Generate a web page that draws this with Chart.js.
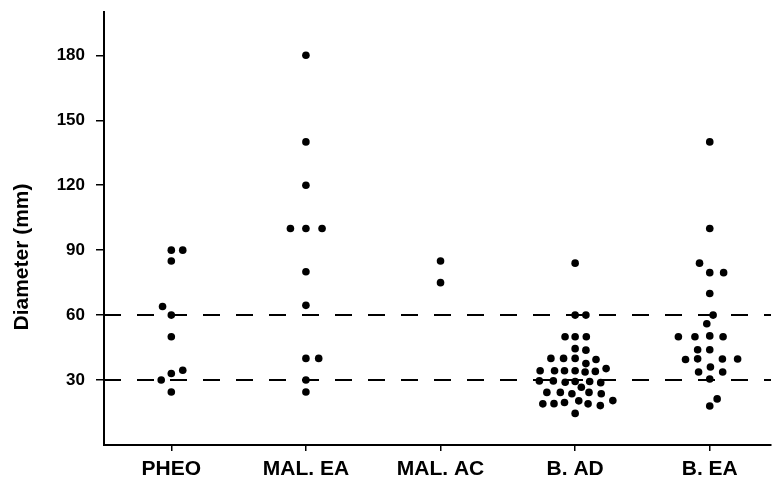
<!DOCTYPE html>
<html>
<head>
<meta charset="utf-8">
<script src="https://cdn.jsdelivr.net/npm/chart.js@4/dist/chart.umd.min.js"></script>
<style>
    body { margin: 0; background: #fff; }
</style>
</head>
<body>
<canvas id="diameter-chart" width="775" height="479"></canvas>
<script>
// Catégories et graduations
const categories = ['PHEO', 'MAL. EA', 'MAL. AC', 'B. AD', 'B. EA'];
const yTicks = [30, 60, 90, 120, 150, 180];
const thresholds = [30, 60];
const yTitle = 'Diameter (mm)';

// Diamètres (mm) et décalage horizontal de chaque point dans son groupe
const pheoValues = [90, 90, 85, 64, 60, 50, 33, 34.5, 30, 24.5];
const pheoOffsets = [0, 0.085, 0, -0.065, 0, 0, 0, 0.085, -0.075, 0];

const malEaValues = [180, 140, 120, 100, 100, 100, 80, 64.5, 40, 40, 30, 24.5];
const malEaOffsets = [0, 0, 0, -0.115, 0, 0.12, 0, 0, 0, 0.095, 0, 0];

const malAcValues = [85, 75];
const malAcOffsets = [0, 0];

const bAdValues = [84, 60, 60, 50, 50, 50, 44.5, 43.8, 40, 40, 40, 39.5, 37.6,
    34.3, 34.3, 34.3, 34.3, 33.7, 34, 35.3,
    29.6, 29.6, 29, 29.3, 29.3, 28.8, 26.7,
    24.3, 24.3, 23.7, 24.3, 23.7, 20.5,
    19, 19.1, 19.6, 20.4, 19, 18.2, 14.6];
const bAdOffsets = [0, 0, 0.08, -0.075, 0, 0.083, 0, 0.08, -0.18, -0.086, 0, 0.155, 0.08,
    -0.26, -0.153, -0.079, 0, 0.074, 0.15, 0.23,
    -0.266, -0.162, -0.074, 0, 0.108, 0.19, 0.046,
    -0.21, -0.11, -0.024, 0.103, 0.194, 0.28,
    -0.24, -0.157, -0.079, 0.027, 0.096, 0.187, 0];

const bEaValues = [140, 100, 84, 79.6, 79.6, 70, 60, 56, 50, 50, 50.4, 50, 44, 44,
    39.5, 39.8, 39.7, 39.7, 36, 33.7, 33.7, 30.5, 21.3, 18];
const bEaOffsets = [0, 0, -0.076, 0, 0.103, 0, 0.025, -0.022, -0.233, -0.11, 0, 0.099, -0.09, 0,
    -0.18, -0.09, 0.094, 0.207, 0.005, -0.083, 0.096, 0, 0.055, 0];

const groups = [
    [pheoValues, pheoOffsets],
    [malEaValues, malEaOffsets],
    [malAcValues, malAcOffsets],
    [bAdValues, bAdOffsets],
    [bEaValues, bEaOffsets]
];

const xMin = -0.5;
const xMax = 4.455;
const labelFont = 'Liberation Sans, Arial, Helvetica, sans-serif';

// Nuages de points, un jeu par groupe
const datasets = groups.map(([values, offsets], i) => ({
    type: 'scatter',
    label: categories[i],
    data: values.map((v, k) => ({ x: i + offsets[k], y: v })),
    backgroundColor: '#000',
    borderWidth: 0,
    pointRadius: 3.8
}));

// Lignes pointillées de seuil
thresholds.forEach(t => {
    datasets.push({
        type: 'line',
        data: [{ x: xMin, y: t }, { x: xMax, y: t }],
        borderColor: '#000',
        borderWidth: 2,
        borderDash: [17, 16],
        pointRadius: 0,
        fill: false
    });
});

// Titre vertical, un peu sous le milieu de l'axe comme sur l'original
const yTitlePlugin = {
    id: 'yTitle',
    afterDraw(chart) {
        const c = chart.ctx;
        c.save();
        c.translate(22, 257);
        c.rotate(-Math.PI / 2);
        c.font = 'bold 21px ' + labelFont;
        c.fillStyle = '#000';
        c.textAlign = 'center';
        c.textBaseline = 'middle';
        c.fillText(yTitle, 0, 0);
        c.restore();
    }
};

const ctx = document.getElementById('diameter-chart').getContext('2d');
const diameterChart = new Chart(ctx, {
    data: { datasets: datasets },
    plugins: [yTitlePlugin],
    options: {
        responsive: false,
        animation: false,
        layout: { padding: { top: 12, right: 0, left: 0, bottom: 0 } },
        plugins: {
            legend: { display: false },
            tooltip: { enabled: false }
        },
        scales: {
            x: {
                type: 'linear',
                min: xMin,
                max: xMax,
                afterBuildTicks: scale => {
                    scale.ticks = categories.map((c, i) => ({ value: i }));
                },
                afterFit: scale => {
                    scale.height = 34;
                    scale.paddingLeft = 0;
                    scale.paddingRight = 0;
                },
                border: { display: true, color: '#000', width: 2 },
                grid: { drawOnChartArea: false, color: '#000', lineWidth: 1.5, tickLength: 6 },
                ticks: {
                    autoSkip: false,
                    maxRotation: 0,
                    padding: 6,
                    color: '#000',
                    font: { family: labelFont, size: 21, weight: 'bold' },
                    callback: value => categories[value]
                }
            },
            y: {
                min: 0,
                max: 200,
                afterBuildTicks: scale => {
                    scale.ticks = yTicks.map(v => ({ value: v }));
                },
                afterFit: scale => {
                    scale.width = 104;
                    scale.paddingTop = 0;
                    scale.paddingBottom = 0;
                },
                border: { display: true, color: '#000', width: 2 },
                grid: { drawOnChartArea: false, color: '#000', lineWidth: 1.5, tickLength: 8 },
                ticks: {
                    padding: 11,
                    color: '#000',
                    font: { family: labelFont, size: 17, weight: 'bold' }
                }
            }
        }
    }
});
</script>
</body>
</html>
